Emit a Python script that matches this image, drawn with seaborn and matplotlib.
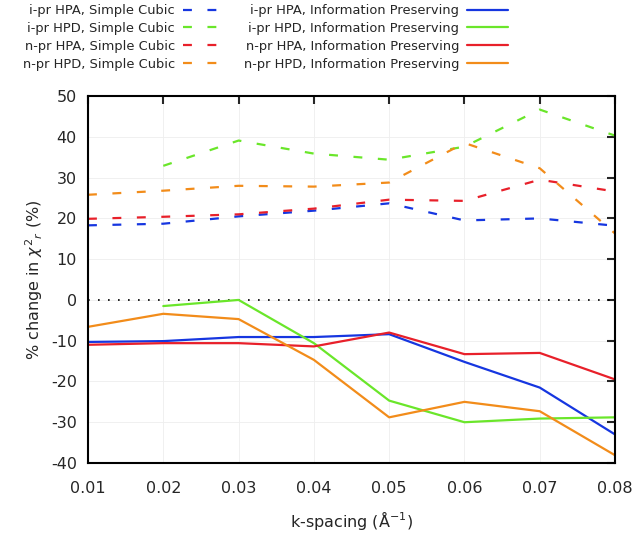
import numpy as np
import pandas as pd
import matplotlib
matplotlib.use('Agg')
import matplotlib.pyplot as plt
import seaborn as sns

sns.set_style("white")
plt.rcParams['font.family'] = ['DejaVu Sans']
plt.rcParams['axes.unicode_minus'] = False

# k-spacing values (1/Angstrom)
k_spacing = [0.01, 0.02, 0.03, 0.04, 0.05, 0.06, 0.07, 0.08]

# Simple Cubic grids (% change in reduced chi^2)
ipr_hpa_sc = [18.3, 18.7, 20.5, 21.9, 23.7, 19.5, 20.0, 18.2]
ipr_hpd_sc = [np.nan, 32.9, 39.1, 35.9, 34.4, 37.6, 46.7, 40.3]
npr_hpa_sc = [19.9, 20.4, 21.0, 22.4, 24.6, 24.3, 29.5, 26.6]
npr_hpd_sc = [25.8, 26.8, 28.0, 27.8, 28.8, 38.5, 32.3, 16.3]

# Information Preserving grids
ipr_hpa_ip = [-10.3, -10.1, -9.1, -9.1, -8.4, -15.2, -21.5, -33.0]
ipr_hpd_ip = [np.nan, -1.5, 0.0, -10.6, -24.7, -30.0, -29.1, -28.8]
npr_hpa_ip = [-11.0, -10.6, -10.6, -11.4, -8.0, -13.3, -13.0, -19.5]
npr_hpd_ip = [-6.6, -3.4, -4.7, -14.7, -28.8, -25.0, -27.3, -38.1]

labels_sc = ['i-pr HPA, Simple Cubic', 'i-pr HPD, Simple Cubic',
             'n-pr HPA, Simple Cubic', 'n-pr HPD, Simple Cubic']
labels_ip = ['i-pr HPA, Information Preserving', 'i-pr HPD, Information Preserving',
             'n-pr HPA, Information Preserving', 'n-pr HPD, Information Preserving']
colors = ['#1636e0', '#6ae62a', '#e8202a', '#f28c1a']

fig = plt.figure(figsize=(6.4, 5.4), dpi=100)
ax = fig.add_axes([0.1375, 0.1426, 0.8235, 0.6794])

# zero reference line
ax.axhline(0, color='black', lw=1.2, ls=(0, (1, 5)), zorder=1)

for vals, lab, c in zip([ipr_hpa_sc, ipr_hpd_sc, npr_hpa_sc, npr_hpd_sc], labels_sc, colors):
    df = pd.DataFrame({'k': k_spacing, 'v': vals}).dropna()
    sns.lineplot(data=df, x='k', y='v', ax=ax, color=c, lw=1.6, label=lab,
                 dashes=False, linestyle=(0, (4, 7)))

for vals, lab, c in zip([ipr_hpa_ip, ipr_hpd_ip, npr_hpa_ip, npr_hpd_ip], labels_ip, colors):
    df = pd.DataFrame({'k': k_spacing, 'v': vals}).dropna()
    sns.lineplot(data=df, x='k', y='v', ax=ax, color=c, lw=1.6, label=lab)

ax.set_xlim(0.01, 0.08)
ax.set_ylim(-40, 50)
ax.set_xticks(k_spacing)
ax.set_xticklabels(['%.2f' % k for k in k_spacing])
ax.set_yticks(np.arange(-40, 51, 10))
ax.grid(True, color='#eeeeee', lw=0.6)
ax.tick_params(direction='in', length=6, width=1.5, top=True, right=True,
               labelsize=11.5)
ax.tick_params(axis='x', pad=13)
ax.tick_params(axis='y', pad=8)
for s in ax.spines.values():
    s.set_color('black')
    s.set_linewidth(1.5)

ax.set_xlabel('k-spacing (Å$^{-1}$)', fontsize=11.5, labelpad=9)
ax.set_ylabel('% change in $\\chi^2{}_r$ (%)', fontsize=11.5, labelpad=4)

handles, labs = ax.get_legend_handles_labels()
ax.get_legend().remove()
fig.legend(handles, labs, ncol=2, loc='upper left', bbox_to_anchor=(0.017, 1.014),
           markerfirst=False, frameon=False, fontsize=9.4, handlelength=3.1,
           labelspacing=0.37, columnspacing=1.6, handletextpad=0.6)

plt.savefig('out.png', dpi=100)
